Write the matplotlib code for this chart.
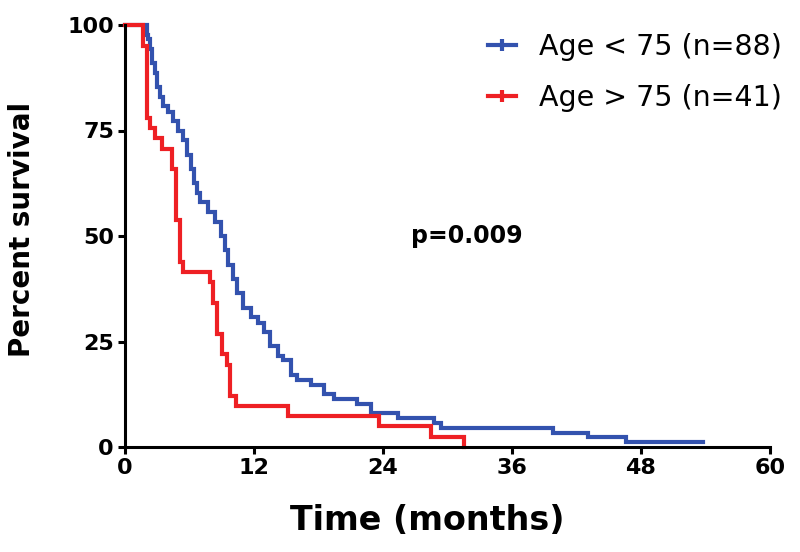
import matplotlib
matplotlib.use("Agg")
import matplotlib.pyplot as plt
from matplotlib.lines import Line2D

# Kaplan-Meier step knots (time in months, percent survival after the step)
blue_t = [0, 2.0, 2.15, 2.3, 2.5, 2.8, 3.0, 3.3, 3.5, 4.0, 4.5, 4.9, 5.4, 5.8, 6.1, 6.4, 6.7, 7.0, 7.7, 8.4,
          8.9, 9.3, 9.6, 10.0, 10.4, 11.0, 11.7, 12.4, 12.9, 13.5, 14.2, 14.7, 15.4, 16.0, 17.3, 18.5, 19.4,
          21.6, 22.9, 25.4, 28.7, 29.4, 39.8, 43.1, 46.6, 53.8]
blue_s = [100, 97.7, 96.6, 94.3, 90.9, 88.6, 85.2, 83.0, 80.7, 79.5, 77.3, 75.0, 72.7, 69.3, 65.9, 62.5, 60.2,
          58.0, 55.7, 53.4, 50.0, 46.6, 43.2, 39.8, 36.4, 33.0, 30.7, 29.5, 27.3, 23.9, 21.6, 20.5, 17.0, 15.9,
          14.8, 12.5, 11.4, 10.2, 8.0, 6.8, 5.7, 4.5, 3.4, 2.3, 1.1, 1.1]

red_t = [0, 1.7, 2.0, 2.3, 2.8, 3.4, 4.4, 4.7, 5.1, 5.4, 7.9, 8.2, 8.6, 9.0, 9.5, 9.8, 10.3, 15.2, 23.6, 28.5, 31.5]
red_s = [100, 95.1, 78.0, 75.6, 73.2, 70.7, 65.9, 53.7, 43.9, 41.5, 39.0, 34.1, 26.8, 22.0, 19.5, 12.2, 9.8,
         7.3, 4.9, 2.4, 0]

labels = ["Age < 75 (n=88)", "Age > 75 (n=41)"]
x_ticks = [0, 12, 24, 36, 48, 60]
y_ticks = [0, 25, 50, 75, 100]
p_text = "p=0.009"

BLUE = "#3352AE"
RED = "#EE2024"

fig = plt.figure(figsize=(8, 5.52), dpi=100)
ax = fig.add_axes([125/800, 1-447/552, (770-125)/800, (447-25)/552])

ax.step(blue_t, blue_s, where="post", color=BLUE, lw=3.0, clip_on=False, solid_joinstyle="miter")
ax.step(red_t, red_s, where="post", color=RED, lw=3.0, clip_on=False, solid_joinstyle="miter")

ax.set_xlim(0, 60)
ax.set_ylim(0, 100)
ax.set_xticks(x_ticks)
ax.set_yticks(y_ticks)
for s in ["top", "right"]:
    ax.spines[s].set_visible(False)
for s in ["left", "bottom"]:
    ax.spines[s].set_linewidth(2.2)
    ax.spines[s].set_color("black")
ax.tick_params(axis="both", direction="out", length=5, width=2.2, labelsize=16, pad=3)
for lab in ax.get_xticklabels() + ax.get_yticklabels():
    lab.set_fontweight("bold")

ax.set_xlabel("Time (months)", fontsize=24, fontweight="bold")
ax.set_ylabel("Percent survival", fontsize=20, fontweight="bold")
ax.xaxis.set_label_coords((427-125)/645, -(520-447)/422, transform=ax.transAxes)
ax.xaxis.label.set_va("center")
ax.yaxis.set_label_coords(-(125-22)/645, (447-229)/422, transform=ax.transAxes)
ax.yaxis.label.set_va("center")

ax.text(31.8, 50, p_text, fontsize=17, fontweight="bold", ha="center", va="center")

handles = [Line2D([0], [0], color=BLUE, lw=3.0, marker="|", markersize=9, markeredgewidth=3.0),
           Line2D([0], [0], color=RED, lw=3.0, marker="|", markersize=9, markeredgewidth=3.0)]
ax.legend(handles, labels, loc="upper right", bbox_to_anchor=(782/800, 1-33/552),
          bbox_transform=fig.transFigure, frameon=False, fontsize=20.5, numpoints=1,
          handlelength=1.0, handletextpad=0.8, labelspacing=0.8, borderaxespad=0, borderpad=0)

fig.savefig("out.png", dpi=100)
